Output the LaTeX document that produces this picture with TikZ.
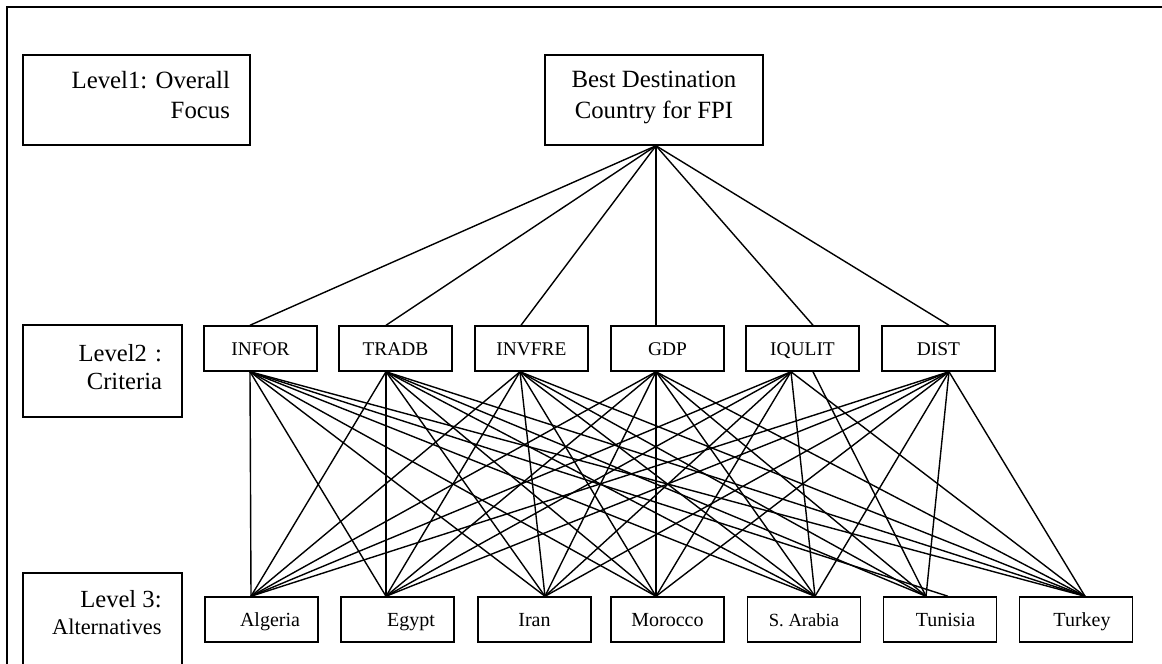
\documentclass[tikz,border=0pt]{standalone}
\usepackage{fontspec}
\setmainfont{Liberation Serif}
\tikzset{
  cellbox/.style={draw, line width=0.75pt, inner sep=0pt},
  crit/.style={cellbox, minimum width=56.5pt, minimum height=22.5pt, text height=6.5pt, text depth=0pt, font=\fontsize{9.7}{11}\selectfont},
  alt/.style={cellbox, minimum width=56.5pt, minimum height=22.5pt, text height=7pt, text depth=0pt, font=\fontsize{10}{12}\selectfont},
  levelbox/.style={cellbox, align=right, inner xsep=10pt, font=\fontsize{12.4}{15}\selectfont},
  link/.style={line width=0.7pt},
}
\begin{document}
\frenchspacing
\begin{tikzpicture}[x=0.5pt, y=-0.5pt]
  \clip (0,0) rectangle (1162,664);
  % frame
  \draw[line width=1pt] (7,700) -- (7,7) -- (1200,7);
  % level 1
  \node[levelbox, text width=93.5pt, minimum height=45pt, text depth=20.5pt] (lev1) at (136.5,100) {Level1: Overall\\Focus};
  \node[cellbox, minimum width=109pt, minimum height=45pt, align=center, text depth=5pt, font=\fontsize{12.4}{15.5}\selectfont] (goal) at (654,100) {Best Destination\\Country for FPI};
  % level 2
  \node[levelbox, text width=59.5pt, minimum height=46pt, text depth=18.5pt, font=\fontsize{12.3}{14}\selectfont] (lev2) at (102.5,371) {Level2 :\\Criteria};
  \node[crit] (infor) at (260.5,348.5) {INFOR};
  \node[crit] (tradb) at (395.5,348.5) {TRADB};
  \node[crit] (invfre) at (531.5,348.5) {INVFRE};
  \node[crit] (gdp) at (667.5,348.5) {GDP};
  \node[crit] (iqulit) at (802.5,348.5) {IQULIT};
  \node[crit] (dist) at (938.5,348.5) {DIST};
  % level 3
  \draw[cellbox] (23,700) |- (182,573) -- (182,700);
  \node[anchor=east, inner sep=0pt, align=right, font=\fontsize{12.3}{13.5}\selectfont] (lev3) at (162,613) {Level 3:\\{\fontsize{11.2}{13.5}\selectfont Alternatives}};
  \node[alt] (alg) at (261.5,619.5) {\hspace*{8.5pt}Algeria};
  \node[alt] (egy) at (397.5,619.5) {\hspace*{13.5pt}Egypt};
  \node[alt] (ira) at (534.5,619.5) {Iran};
  \node[alt] (mor) at (667.5,619.5) {Morocco};
  \node[alt, font=\fontsize{9.3}{11}\selectfont] (sau) at (804,619.5) {S. Arabia};
  \node[alt] (tun) at (940,619.5) {\hspace*{5.5pt}Tunisia};
  \node[alt] (tur) at (1076,619.5) {\hspace*{6pt}Turkey};
  % goal -> criteria
  \foreach \c/\d in {infor/-5.25, tradb/-4.75, invfre/-5.25, gdp/-5.75, iqulit/5.25, dist/5.25}
    \draw[link] ([xshift=1pt]goal.south) -- ([xshift=\d pt]\c.north);
  % entry points on the alternatives
  \foreach \a/\d in {alg/-5.25, egy/-5.75, ira/5.25, mor/-5.75, sau/5.5, tun/-7, tur/4.5}
    \coordinate (\a-in) at ([xshift=\d pt]\a.north);
  % criteria -> alternatives
  \foreach \a in {alg,egy,ira,mor,sau,tur}
    \draw[link] ([xshift=-5.25pt]infor.south) -- (\a-in);
  \draw[link] ([xshift=-5.25pt]infor.south) -- ([xshift=4pt]tun.north);
  \foreach \a in {alg,egy,ira,mor,sau,tun,tur}
    \draw[link] ([xshift=-4.75pt]tradb.south) -- (\a-in);
  \foreach \a in {alg,egy,ira,mor,sau,tun,tur}
    \draw[link] ([xshift=-5.75pt]invfre.south) -- (\a-in);
  \foreach \a in {alg,egy,ira,mor,sau,tun,tur}
    \draw[link] ([xshift=-5.75pt]gdp.south) -- (\a-in);
  \foreach \a in {alg,egy,ira,mor,sau,tur}
    \draw[link] ([xshift=-5.75pt]iqulit.south) -- (\a-in);
  \draw[link] ([xshift=5.25pt]iqulit.south) -- (tun-in);
  \foreach \a in {alg,egy,ira,mor,sau,tun,tur}
    \draw[link] ([xshift=5.25pt]dist.south) -- (\a-in);
\end{tikzpicture}
\end{document}
